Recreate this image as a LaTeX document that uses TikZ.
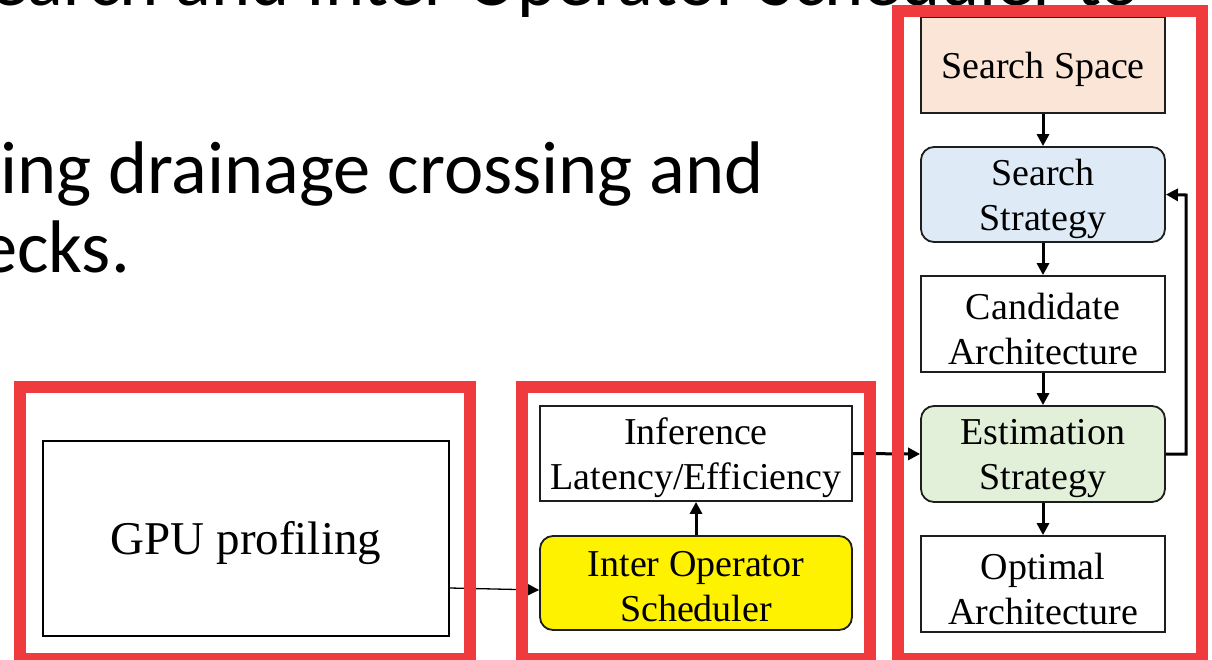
\documentclass[tikz,border=0pt]{standalone}
\usepackage{fontspec}
\setmainfont{Liberation Serif}
\newfontfamily\slidefont{Carlito}
\usetikzlibrary{arrows.meta}
\definecolor{redframe}{RGB}{239,59,62}
\definecolor{peach}{RGB}{251,229,214}
\definecolor{paleblue}{RGB}{222,235,247}
\definecolor{palegreen}{RGB}{226,240,217}
\definecolor{boxline}{RGB}{30,30,30}
\begin{document}
\begin{tikzpicture}[x=1pt,y=-1pt,
  stepbox/.style={draw=boxline, line width=1.8pt, minimum width=244pt, minimum height=96pt,
    inner sep=0pt},
  roundbox/.style={stepbox, rounded corners=13pt},
  boxtext/.style={align=center, inner sep=0pt, font=\fontsize{38}{45}\selectfont},
  flow/.style={line width=3pt, -{Triangle[length=12pt,width=12pt]}},
  thinflow/.style={line width=1.3pt, -{Triangle[length=14pt,width=14pt]}},
  redbox/.style={draw=redframe, line width=12pt},
  slide/.style={font=\slidefont\fontsize{74.5}{80}\selectfont, anchor=base east, inner sep=0pt}]
\useasboundingbox (0,0) rectangle (1212,659);
\fill[white] (0,0) rectangle (1212,659);

% background slide text
\node[slide] (t1) at (1140,5) {earch and Inter Operator Scheduler to};
\node[slide] (t2) at (764,193) {ing drainage crossing and};
\node[slide] (t3) at (130,272) {ecks.};

% right column
\node[stepbox, fill=peach] (ss) at (1043,65) {};
\node[roundbox, fill=paleblue, minimum height=95pt] (sst) at (1043,194.5) {};
\node[stepbox, fill=white] (ca) at (1043,324) {};
\node[roundbox, fill=palegreen] (es) at (1043,454) {};
\node[stepbox, fill=white] (oa) at (1043,584) {};
\node[boxtext] (ssT) at ([yshift=-4.5pt]ss.center) {Search Space};
\node[boxtext] (sstT) at ([yshift=-4.5pt]sst.center) {Search\\Strategy};
\node[boxtext] (caT) at ([yshift=-4.5pt]ca.center) {Candidate\\Architecture};
\node[boxtext] (esT) at ([yshift=-4.5pt]es.center) {Estimation\\Strategy};
\node[boxtext] (oaT) at ([yshift=-4.5pt]oa.center) {Optimal\\Architecture};

% middle column
\node[stepbox, fill=white, minimum width=312pt, minimum height=95pt] (inf) at (696,453.5) {};
\node[roundbox, fill=yellow, minimum width=312pt, minimum height=94pt] (ios) at (696,583) {};
\node[boxtext] (infT) at ([yshift=-4.5pt]inf.center) {Inference\\Latency/Efficiency};
\node[boxtext] (iosT) at ([yshift=-4pt]ios.center) {Inter Operator\\Scheduler};

% left
\node[draw=black, line width=1.6pt, minimum width=406pt, minimum height=195pt, inner sep=0pt] (gpu) at (246,538.5) {};
\node[inner sep=0pt, font=\fontsize{47}{52}\selectfont] (gpuT) at ([yshift=-5pt]gpu.center) {GPU profiling};

% connectors
\draw[flow] (ss) -- (sst);
\draw[flow] (sst) -- (ca);
\draw[flow] (ca) -- (es);
\draw[flow] (es) -- (oa);
\coordinate (fb1) at (1186,454);
\coordinate (fb2) at (1186,195);
\draw[flow] (es.east) -- (fb1) -- (fb2) -- (sst.east);
\draw[flow] (inf.east) -- (es.west);
\draw[flow] (ios) -- (inf);
\draw[thinflow] ([yshift=-49.5pt]gpu.east) -- ([yshift=-7pt]ios.west);

% red frames
\draw[redbox] (20,387) rectangle (470,659);
\draw[redbox] (522,387) rectangle (870,659);
\draw[redbox] (898,11) rectangle (1202,659);
\end{tikzpicture}
\end{document}
